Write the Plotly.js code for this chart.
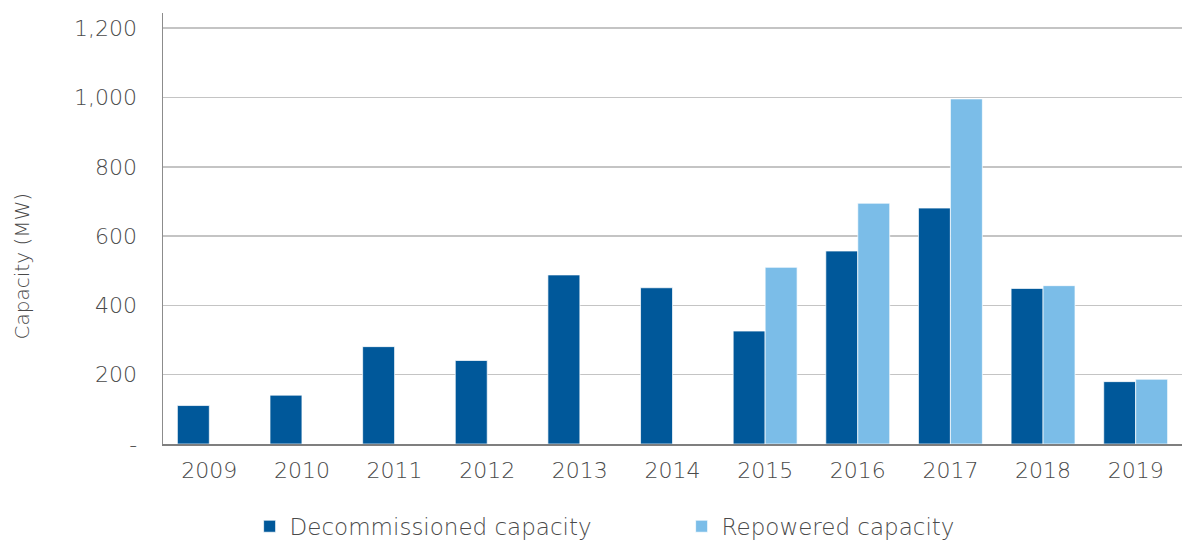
<!DOCTYPE html>
<html>
<head>
<meta charset="utf-8">
<script src="https://cdn.plot.ly/plotly-3.0.1.min.js"></script>
<style>html,body{margin:0;padding:0;background:#fff;}#chart{width:1182px;height:540px;}</style>
</head>
<body>
<div id="chart"></div>
<script>
const years = ['2009','2010','2011','2012','2013','2014','2015','2016','2017','2018','2019'];
const decommissioned = [111, 141, 281, 241, 488, 451, 326, 557, 681, 449, 180];
const repowered = [null, null, null, null, null, null, 510, 695, 996, 457, 187];
const yTickVals = [0, 200, 400, 600, 800, 1000, 1200];
const yTickText = ['-', '200', '400', '600', '800', '1,000', '1,200'];
const yTitle = 'Capacity (MW)';

const FONT = 'DejaVu Sans, sans-serif';
const GREY = '#4a4a4a';
const W = 300;

const traces = [
  {type: 'bar', name: 'Decommissioned capacity', x: years, y: decommissioned,
   marker: {color: '#00589a', line: {color: 'rgba(255,255,255,0.7)', width: 1}}, hoverinfo: 'x+y'},
  {type: 'bar', name: 'Repowered capacity', x: years, y: repowered,
   marker: {color: '#7bbde8', line: {color: 'rgba(255,255,255,0.7)', width: 1}}, hoverinfo: 'x+y'}
];

const layout = {
  width: 1182, height: 540,
  margin: {l: 163, r: 0, t: 13, b: 96, autoexpand: false},
  paper_bgcolor: '#fff', plot_bgcolor: '#fff',
  barmode: 'group', bargap: 0.31, bargroupgap: 0,
  font: {family: FONT, color: GREY, size: 22, weight: W},
  xaxis: {
    type: 'category', showgrid: false, showline: true, linecolor: '#7f7f7f', linewidth: 2,
    ticks: '', tickfont: {family: FONT, size: 22, color: GREY, weight: W}, ticklabelstandoff: 6
  },
  yaxis: {
    range: [0, 1244], tickvals: yTickVals, ticktext: yTickText,
    showgrid: true, gridcolor: '#c4c4c4', gridwidth: 1.5, zeroline: false,
    showline: true, linecolor: '#8c8c8c', linewidth: 1.5, ticks: '',
    tickfont: {family: FONT, size: 22, color: GREY, weight: W}, ticklabelstandoff: 20
  },
  annotations: [{
    text: yTitle, xref: 'paper', yref: 'paper', x: -0.138, y: 0.413,
    xanchor: 'center', yanchor: 'middle', textangle: -90, showarrow: false,
    font: {family: FONT, size: 20, color: GREY, weight: W}
  }],
  showlegend: true,
  legend: {
    orientation: 'h', x: 0.085, xanchor: 'left', y: -0.141, yanchor: 'top',
    font: {family: FONT, size: 23, color: GREY, weight: W},
    entrywidth: 387, entrywidthmode: 'pixels', bgcolor: 'rgba(0,0,0,0)'
  }
};

Plotly.newPlot('chart', traces, layout, {displayModeBar: false, staticPlot: true});
</script>
</body>
</html>
